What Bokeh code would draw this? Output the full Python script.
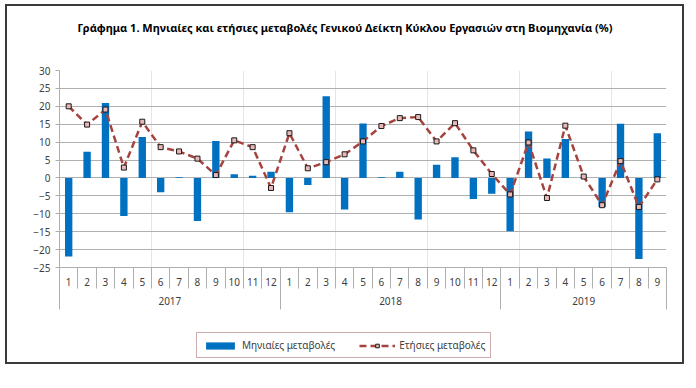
import numpy as np
from bokeh.plotting import figure
from bokeh.layouts import column
from bokeh.models import (Range1d, LinearAxis, FixedTicker, CustomJSTickFormatter,
                          Legend, LegendItem, ColumnDataSource)
from bokeh.embed import file_html
from bokeh.resources import INLINE

# ---- data ----
years = ["2017", "2018", "2019"]
months_per_year = [12, 12, 9]
month_labels = [str(m) for m in range(1, 13)] + [str(m) for m in range(1, 13)] + [str(m) for m in range(1, 10)]
monthly = [-21.9, 7.3, 20.9, -10.6, 11.4, -4.0, 0.2, -12.0, 10.3, 1.0, 0.6, 1.7,
           -9.6, -2.0, 22.8, -8.8, 15.2, 0.2, 1.7, -11.6, 3.7, 5.8, -5.9, -4.4,
           -14.9, 13.0, 5.4, 10.9, 0.1, -8.1, 15.1, -22.6, 12.5]
annual = [20.0, 14.9, 19.1, 2.9, 15.7, 8.6, 7.4, 5.4, 0.8, 10.5, 8.6, -2.8,
          12.5, 2.7, 4.4, 6.6, 10.2, 14.5, 16.7, 17.0, 10.2, 15.3, 7.7, 1.1,
          -4.6, 9.9, -5.6, 14.6, 0.4, -7.6, 4.7, -8.1, -0.4]
y_ticks = list(range(-25, 31, 5))
title_text = "Γράφημα 1. Μηνιαίες και ετήσιες μεταβολές  Γενικού Δείκτη Κύκλου Εργασιών στη Βιομηχανία (%)"
series_names = ["Μηνιαίες μεταβολές", "Ετήσιες μεταβολές"]

n = len(monthly)
centers = [i + 0.5 for i in range(n)]
bounds = list(range(n + 1))
year_bounds = [0] + [int(v) for v in np.cumsum(months_per_year)]
year_centers = [(year_bounds[i] + year_bounds[i + 1]) / 2 for i in range(len(years))]
TITLE_X = 15.6  # horizontal anchor of the title (centred over the whole chart)

src = ColumnDataSource(dict(x=centers, m=monthly, a=annual))

FONT = "Noto Sans"
GRID = "#B0B0B0"
TXT = "#404040"
BAR_COLOR = "#0070C0"
LINE_COLOR = "#A5433F"
MARK_FILL = "#E9B8B6"

p = figure(width=675, height=310, output_backend="svg", toolbar_location=None,
           x_range=Range1d(0, n), y_range=Range1d(y_ticks[0], y_ticks[-1]),
           x_axis_location=None, min_border_left=52, min_border_right=16,
           min_border_top=64, min_border_bottom=49)
p.outline_line_color = None
p.background_fill_color = "white"

# title drawn as the single label of an axis above the frame
tax = LinearAxis(ticker=FixedTicker(ticks=[TITLE_X], minor_ticks=[]),
                 formatter=CustomJSTickFormatter(args=dict(t=title_text), code="return t"))
tax.axis_line_color = None
tax.major_tick_line_color = None
tax.minor_tick_line_color = None
tax.major_tick_out = 0
tax.major_tick_in = 0
tax.minor_tick_out = 0
tax.major_label_standoff = 36
tax.major_label_text_font = FONT
tax.major_label_text_font_size = "11px"
tax.major_label_text_font_style = "bold"
tax.major_label_text_color = "black"
p.add_layout(tax, "above")

# y axis
yax = p.yaxis[0]
yax.ticker = FixedTicker(ticks=y_ticks, minor_ticks=[])
yax.axis_line_color = GRID
yax.major_tick_line_color = GRID
yax.major_tick_out = 4
yax.major_tick_in = 0
yax.minor_tick_line_color = None
yax.major_label_text_font = FONT
yax.major_label_text_font_size = "10px"
yax.major_label_text_color = TXT
yax.major_label_standoff = 5
p.ygrid.grid_line_color = GRID
p.ygrid.grid_line_width = 1

# month axis
ax1 = LinearAxis(ticker=FixedTicker(ticks=centers, minor_ticks=bounds),
                 formatter=CustomJSTickFormatter(args=dict(labels=month_labels),
                                                 code="return labels[Math.floor(tick)]"))
ax1.axis_line_color = GRID
ax1.major_tick_out = 0
ax1.major_tick_in = 0
ax1.major_tick_line_color = None
ax1.minor_tick_out = 21
ax1.minor_tick_in = 0
ax1.minor_tick_line_color = GRID
ax1.major_label_text_font = FONT
ax1.major_label_text_font_size = "10px"
ax1.major_label_text_color = TXT
ax1.major_label_standoff = -11
p.add_layout(ax1, "below")

# year axis
ax2 = LinearAxis(ticker=FixedTicker(ticks=year_centers, minor_ticks=year_bounds),
                 formatter=CustomJSTickFormatter(args=dict(labels=years, pos=year_centers),
                                                 code="return labels[pos.indexOf(tick)]"))
ax2.axis_line_color = None
ax2.major_tick_out = 0
ax2.major_tick_in = 0
ax2.major_tick_line_color = None
ax2.minor_tick_out = 21
ax2.minor_tick_in = 3
ax2.minor_tick_line_color = GRID
ax2.major_label_text_font = FONT
ax2.major_label_text_font_size = "10px"
ax2.major_label_text_color = TXT
ax2.major_label_standoff = -13
p.add_layout(ax2, "below")

bars = p.vbar(x="x", top="m", bottom=0, width=0.4, source=src,
              fill_color=BAR_COLOR, line_color=None)
ln = p.line(x="x", y="a", source=src, line_color=LINE_COLOR, line_width=2.5,
            line_dash="7 4")
mk = p.scatter(x="x", y="a", source=src, marker="square", size=5,
               fill_color=MARK_FILL, line_color="#1A1A1A", line_width=1)

# legend strip below the chart (its glyphs share the data but lie outside its view)
lf = figure(width=675, height=46, output_backend="svg", toolbar_location=None,
            x_range=Range1d(0, n), y_range=Range1d(1000, 1001),
            x_axis_location=None, y_axis_location=None,
            min_border_left=0, min_border_right=0, min_border_top=0, min_border_bottom=0)
lf.grid.visible = False
lf.outline_line_color = None
lb = lf.vbar(x="x", top="m", bottom=0, width=0.4, source=src,
             fill_color=BAR_COLOR, line_color=None)
ll = lf.line(x="x", y="a", source=src, line_color=LINE_COLOR, line_width=2.5,
             line_dash="7 4")
lm = lf.scatter(x="x", y="a", source=src, marker="square", size=5,
                fill_color=MARK_FILL, line_color="#1A1A1A", line_width=1)

legend = Legend(items=[LegendItem(label=series_names[0], renderers=[lb]),
                       LegendItem(label=series_names[1], renderers=[ll, lm])],
                location=(137, 4), orientation="horizontal",
                glyph_width=36, glyph_height=9, padding=5, spacing=24,
                label_standoff=4, margin=0,
                label_text_font=FONT, label_text_font_size="10px",
                label_text_color=TXT,
                border_line_color="#9A5A5A", border_line_width=1,
                background_fill_color="white", background_fill_alpha=1)
lf.add_layout(legend, "center")

lay = column(p, lf, spacing=0)
lay.styles = {"border": "2px solid #3A3A3A", "margin-left": "5px", "margin-top": "4px"}

open("out.html", "w").write(file_html(lay, INLINE))
